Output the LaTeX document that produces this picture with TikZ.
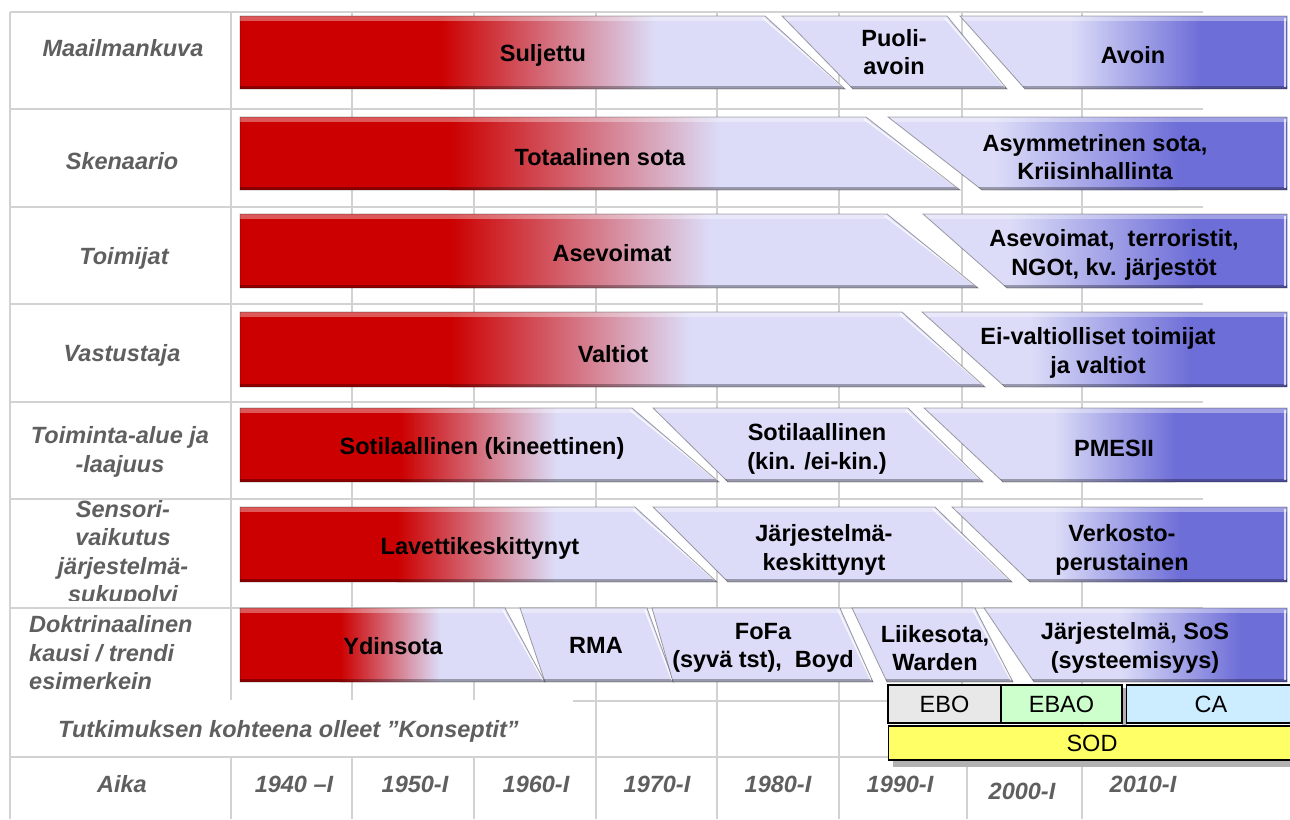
\documentclass[tikz,border=0pt]{standalone}
\usepackage{fontspec}
\setmainfont{Liberation Sans}

\definecolor{barred}{RGB}{204,0,0}
\definecolor{barlav}{RGB}{220,220,248}
\definecolor{barblue}{RGB}{110,110,216}
\definecolor{gridgray}{RGB}{210,210,210}
\definecolor{labelgray}{RGB}{95,95,95}
\definecolor{eboc}{RGB}{232,232,232}
\definecolor{ebaoc}{RGB}{204,255,204}
\definecolor{cac}{RGB}{204,236,255}
\definecolor{sodc}{RGB}{255,255,102}

\tikzset{
  bartxt/.style={font=\fontsize{23.5}{28.5}\selectfont\bfseries, align=center, inner sep=0pt, text=black},
  rowlbl/.style={font=\fontsize{23.5}{28.5}\selectfont\bfseries\itshape, align=center, inner sep=0pt, text=labelgray},
  yearlbl/.style={rowlbl},
  boxtxt/.style={font=\fontsize{23.5}{28}\selectfont, inner sep=0pt, text=black},
  conceptbox/.style={boxtxt, draw=black, line width=1.3pt, minimum height=38pt},
  gridline/.style={draw=gridgray, line width=1.5pt},
  piecerim/.style={draw=black, draw opacity=.35, line width=.8pt},
  bevel/.style={draw=white, draw opacity=.75, line width=1.6pt},
}

% current row band of the bars
\newcommand\rowband[2]{\def\btop{#1}\def\bbot{#2}}
% one slanted piece of a bar: top-left, bottom-left, top-right, bottom-right x, then colour layers
\newcommand\barpiece[5]{%
  \begin{scope}
    \clip (#1,\btop) -- (#3,\btop) -- (#4,\bbot) -- (#2,\bbot) -- cycle;
    \fill[barlav] (200,\btop) rectangle (1300,\bbot);
    #5
    \fill[white, opacity=.35] (200,\btop) rectangle (1300,\btop+5);
    \fill[black, opacity=.30] (200,\bbot-3) rectangle (1300,\bbot);
  \end{scope}
  \draw[bevel] (#3-2,\btop+2) -- (#4-2,\bbot-2);
  \draw[piecerim] (#1,\btop) -- (#3,\btop) -- (#4,\bbot) -- (#2,\bbot) -- cycle;
}
% red start fading into lavender
\newcommand\redpart[2]{%
  \fill[barred] (200,\btop) rectangle (#1,\bbot);
  \shade[left color=barred, right color=barlav] (#1,\btop) rectangle (#2,\bbot);
}
% lavender fading into blue at the right end
\newcommand\bluepart[2]{%
  \shade[left color=barlav, right color=barblue] (#1,\btop) rectangle (#2,\bbot);
  \fill[barblue] (#2,\btop) rectangle (1300,\bbot);
}

\begin{document}
\begin{tikzpicture}[x=1pt, y=-1pt]
\useasboundingbox (0,0) rectangle (1290,819);
\fill[white] (0,0) rectangle (1290,819);

% ---- table grid ----
\foreach \yy in {12,109,207,304,402,499,608}
  \draw[gridline] (10,\yy) -- (1203,\yy);
\draw[gridline] (573,701) -- (1203,701);
\draw[gridline] (10,757) -- (1203,757);
\draw[gridline] (10,12) -- (10,819);
\foreach \xx in {231,352,474} {
  \draw[gridline] (\xx,12) -- (\xx,700);
  \draw[gridline] (\xx,757) -- (\xx,819);
}
\foreach \xx in {596,717,839,1082}
  \draw[gridline] (\xx,12) -- (\xx,819);
\draw[gridline] (962,12) -- (962,700);
\draw[gridline] (967,757) -- (967,819);

% ---- bars ----
\rowband{16}{89}
\barpiece{240}{240}{765}{845}{\redpart{440}{655}}
\barpiece{782}{853}{947}{1007}{}
\barpiece{960}{1025}{1287}{1287}{\bluepart{1070}{1200}}

\rowband{117}{190}
\barpiece{240}{240}{866}{960}{\redpart{450}{720}}
\barpiece{888}{982}{1287}{1287}{\bluepart{995}{1178}}

\rowband{214}{288}
\barpiece{240}{240}{887}{978}{\redpart{450}{710}}
\barpiece{923}{1007}{1287}{1287}{\bluepart{1010}{1193}}

\rowband{312}{387}
\barpiece{240}{240}{902}{985}{\redpart{450}{690}}
\barpiece{922}{1005}{1287}{1287}{\bluepart{1030}{1190}}

\rowband{408}{482}
\barpiece{240}{240}{632}{719}{\redpart{400}{557}}
\barpiece{653}{728}{908}{983}{}
\barpiece{924}{1003}{1287}{1287}{\bluepart{1054}{1175}}

\rowband{507}{582}
\barpiece{240}{240}{635}{717}{\redpart{397}{555}}
\barpiece{653}{728}{935}{1012}{}
\barpiece{952}{1030}{1287}{1287}{\bluepart{1054}{1180}}

\rowband{608}{682}
\barpiece{240}{240}{505}{545}{\redpart{340}{440}}
\barpiece{520}{545}{647}{674}{}
\barpiece{652}{673}{840}{873}{}
\barpiece{852}{887}{975}{1013}{}
\barpiece{984}{1034}{1287}{1287}{\bluepart{1120}{1240}}

% ---- bar texts ----
\node[bartxt] (suljettu) at (543,55) {Suljettu};
\node[bartxt] (puoliavoin) at (894,52) {Puoli-\\avoin};
\node[bartxt] (avoin) at (1133,55) {Avoin};

\node[bartxt] (totaalinen) at (600,157) {Totaalinen sota};
\node[bartxt] (asymmetrinen) at (1095,157) {Asymmetrinen sota,\\Kriisinhallinta};

\node[bartxt] (asevoimat) at (612,253) {Asevoimat};
\node[bartxt] (toimijatlaaja) at (1114,255) {Asevoimat,\ \ terroristit,\\NGOt, kv. järjestöt};

\node[bartxt] (valtiot) at (613,354) {Valtiot};
\node[bartxt] (eivaltiolliset) at (1098,353) {Ei-valtiolliset toimijat\\ja valtiot};

\node[bartxt] (kineettinen) at (482,448) {Sotilaallinen (kineettinen)};
\node[bartxt] (kinei) at (817,449) {Sotilaallinen\\(kin. /ei-kin.)};
\node[bartxt] (pmesii) at (1114,448) {PMESII};

\node[bartxt] (lavetti) at (480,548) {Lavettikeskittynyt};
\node[bartxt] (jarjkesk) at (824,550) {Järjestelmä-\\keskittynyt};
\node[bartxt] (verkosto) at (1122,550) {Verkosto-\\perustainen};

\node[bartxt] (ydinsota) at (393,646) {Ydinsota};
\node[bartxt] (rma) at (596,645) {RMA};
\node[bartxt] (fofa) at (763,648) {FoFa\\(syvä tst),\ \ Boyd};
\node[bartxt] (liikesota) at (935,648) {Liikesota,\\Warden};
\node[bartxt] (jarjsos) at (1135,648) {Järjestelmä, SoS\\(systeemisyys)};

% ---- row labels ----
\node[rowlbl] (maailmankuva) at (123,48) {Maailmankuva};
\node[rowlbl] (skenaario) at (122,161) {Skenaario};
\node[rowlbl] (toimijat) at (124,258) {Toimijat};
\node[rowlbl] (vastustaja) at (122,355) {Vastustaja};
\node[rowlbl] (toimintaalue) at (120,452) {Toiminta-alue ja\\-laajuus};
\begin{scope}
  \clip (12,500) rectangle (229,600);
  \node[rowlbl] (sensori) at (123,554) {Sensori-\\vaikutus\\järjestelmä-\\sukupolvi};
\end{scope}
\node[rowlbl, align=left, anchor=west] (doktriini) at (29,653) {Doktrinaalinen\\kausi / trendi\\esimerkein};
\node[rowlbl, anchor=west] (tutkimus) at (58,731) {Tutkimuksen kohteena olleet ”Konseptit”};
\node[rowlbl] (aika) at (122,784) {Aika};

% ---- years ----
\node[yearlbl] (y1940) at (294,784) {1940 –I};
\node[yearlbl] (y1950) at (415,784) {1950-I};
\node[yearlbl] (y1960) at (536,784) {1960-I};
\node[yearlbl] (y1970) at (657,784) {1970-I};
\node[yearlbl] (y1980) at (778,784) {1980-I};
\node[yearlbl] (y1990) at (900,784) {1990-I};
\node[yearlbl] (y2000) at (1022,791) {2000-I};
\node[yearlbl] (y2010) at (1143,784) {2010-I};

% ---- concept boxes ----
\fill[gray!60] (893,760) rectangle (1290,767);
\fill[gray!60] (1122,688) rectangle (1127,725);
\node[conceptbox, fill=eboc, minimum width=113pt] (ebo) at (944.5,704) {EBO};
\node[conceptbox, fill=ebaoc, minimum width=121pt] (ebao) at (1061.5,704) {EBAO};
\node[conceptbox, fill=cac, minimum width=170pt, anchor=west] (ca) at (1126,704) {};
\node[boxtxt] (catext) at (1211,704) {CA};
\node[conceptbox, fill=sodc, minimum width=410pt, minimum height=34pt, anchor=west] (sod) at (888,743) {};
\node[boxtxt] (sodtext) at (1092,743) {SOD};
\end{tikzpicture}
\end{document}
